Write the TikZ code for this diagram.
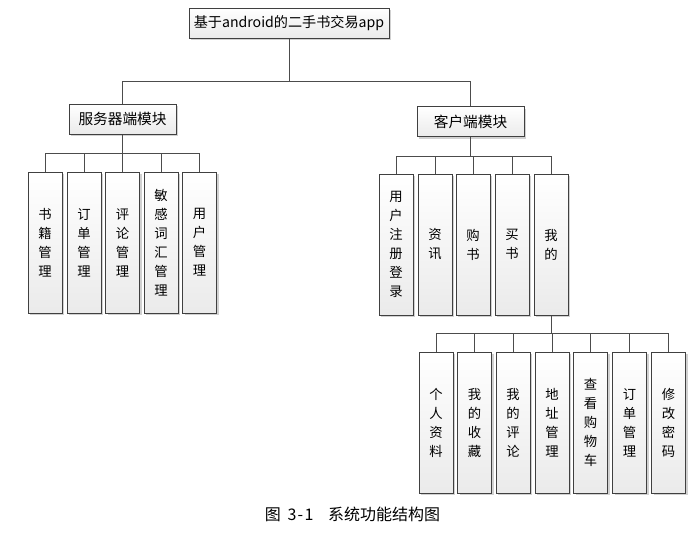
\documentclass[tikz,border=0pt]{standalone}
\usepackage{fontspec}
\setmainfont{Noto Sans CJK SC}
\usepackage{tikz}
\usetikzlibrary{shadows}

\begin{document}
\begin{tikzpicture}[
		x=0.75pt, y=-0.75pt,
		box/.style={rectangle, draw=black!75, line width=0.75pt, inner sep=0pt,
			top color=white, bottom color=black!8,
			drop shadow={shadow xshift=1.5pt, shadow yshift=-1.5pt, fill=black!18, opacity=1},
			font=\fontsize{10}{14.25}\selectfont, align=center},
		mod/.style={box, minimum height=22.5pt, minimum width=80.25pt, font=\fontsize{11}{13}\selectfont},
		leaf/.style={box, minimum width=25.5pt, minimum height=105.75pt},
		line/.style={draw=black!70, line width=0.75pt},
		tree/.style={to path={-| (\tikztotarget)}}
	]
  \useasboundingbox (0, 0) rectangle (697, 536);
  \node (root) [mod, minimum width=150pt, font=\fontsize{10.6}{13}\selectfont] at (289, 23) {基于android的二手书交易app};
  \node (server) [mod] at (122.5, 119) {服务器端模块};
  \node (client) [mod] at (470.5, 121.5) {客户端模块};
  \node (s_book) [leaf] at (45, 242.5) {书\\籍\\管\\理};
  \node (s_order) [leaf] at (84, 242.5) {订\\单\\管\\理};
  \node (s_comment) [leaf] at (122.5, 242.5) {评\\论\\管\\理};
  \node (s_word) [leaf] at (161, 242.5) {敏\\感\\词\\汇\\管\\理};
  \node (s_user) [leaf] at (199.5, 242.5) {用\\户\\管\\理};
  \node (c_login) [leaf] at (396, 244.5) {用\\户\\注\\册\\登\\录};
  \node (c_news) [leaf] at (435, 244.5) {资\\讯};
  \node (c_buy) [leaf] at (473, 244.5) {购\\书};
  \node (c_sell) [leaf] at (512, 244.5) {买\\书};
  \node (c_mine) [leaf] at (551, 244.5) {我\\的};
  \node (m_info) [leaf] at (436, 422.5) {个\\人\\资\\料};
  \node (m_fav) [leaf] at (474.5, 422.5) {我\\的\\收\\藏};
  \node (m_comment) [leaf] at (513, 422.5) {我\\的\\评\\论};
  \node (m_addr) [leaf] at (552, 422.5) {地\\址\\管\\理};
  \node (m_cart) [leaf] at (590.5, 422.5) {查\\看\\购\\物\\车};
  \node (m_order) [leaf] at (629.5, 422.5) {订\\单\\管\\理};
  \node (m_pwd) [leaf] at (668.5, 422.5) {修\\改\\密\\码};
  \node (caption) [font=\fontsize{12}{14}\selectfont] at (352.5, 514) {图\hspace{5pt}3\hspace{1pt}-\hspace{1pt}1\hspace{11pt}系统功能结构图};
  \coordinate (root_bus) at (289, 81);
  \coordinate (server_bus) at (122.5, 153);
  \coordinate (client_bus) at (470.5, 156);
  \coordinate (mine_bus) at (551, 333);
  \draw [line] (root) -- (root_bus) edge [tree] (server) edge [tree] (client);
  \draw [line] (server) -- (server_bus) edge [tree] (s_book) edge [tree] (s_order)
    edge [tree] (s_comment) edge [tree] (s_word) edge [tree] (s_user);
  \draw [line] (client) -- (client_bus) edge [tree] (c_login) edge [tree] (c_news)
    edge [tree] (c_buy) edge [tree] (c_sell) edge [tree] (c_mine);
  \draw [line] (c_mine) -- (mine_bus) edge [tree] (m_info) edge [tree] (m_fav)
    edge [tree] (m_comment) edge [tree] (m_addr) edge [tree] (m_cart)
    edge [tree] (m_order) edge [tree] (m_pwd);
\end{tikzpicture}
\end{document}
